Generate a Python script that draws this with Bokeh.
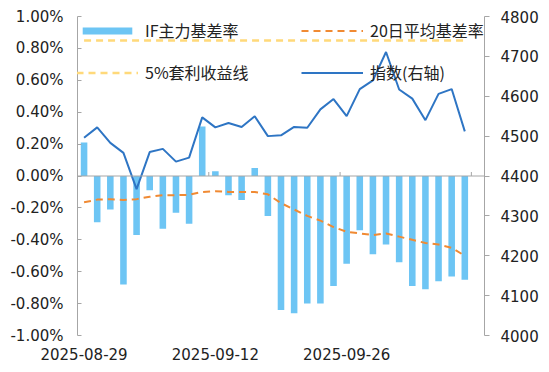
from bokeh.plotting import figure
from bokeh.models import (Range1d, LinearAxis, FixedTicker, PrintfTickFormatter,
                          Span, Legend, LegendItem)
from bokeh.embed import file_html
from bokeh.resources import INLINE

# ---------------- data ----------------
DATES = ["2025-08-29", "2025-09-01", "2025-09-02", "2025-09-03", "2025-09-04",
         "2025-09-05", "2025-09-08", "2025-09-09", "2025-09-10", "2025-09-11",
         "2025-09-12", "2025-09-15", "2025-09-16", "2025-09-17", "2025-09-18",
         "2025-09-19", "2025-09-22", "2025-09-23", "2025-09-24", "2025-09-25",
         "2025-09-26", "2025-09-29", "2025-09-30", "2025-10-09", "2025-10-10",
         "2025-10-13", "2025-10-14", "2025-10-15", "2025-10-16", "2025-10-17"]
# IF main contract basis rate (%)
BASIS = [0.21, -0.29, -0.21, -0.68, -0.37, -0.09, -0.33, -0.23, -0.30, 0.31,
         0.03, -0.12, -0.15, 0.05, -0.25, -0.84, -0.86, -0.80, -0.80, -0.69,
         -0.55, -0.34, -0.49, -0.43, -0.54, -0.69, -0.71, -0.66, -0.63, -0.65]
# 20-day average basis rate (%)
MA20 = [-0.165, -0.148, -0.145, -0.150, -0.145, -0.130, -0.120, -0.120, -0.118, -0.100,
        -0.095, -0.100, -0.100, -0.100, -0.115, -0.170, -0.210, -0.250, -0.280, -0.320,
        -0.350, -0.360, -0.370, -0.360, -0.380, -0.400, -0.420, -0.430, -0.450, -0.500]
# CSI 300 index (right axis)
INDEX = [4496, 4522, 4483, 4458, 4367, 4460, 4468, 4436, 4446, 4547,
         4522, 4533, 4523, 4550, 4500, 4502, 4523, 4521, 4567, 4593,
         4550, 4618, 4640, 4711, 4617, 4594, 4540, 4606, 4618, 4512]
ARB_LINE = 0.85  # 5% arbitrage return line (%)

LEFT_TICKS = [-1.0, -0.8, -0.6, -0.4, -0.2, 0.0, 0.2, 0.4, 0.6, 0.8, 1.0]
RIGHT_TICKS = [4000, 4100, 4200, 4300, 4400, 4500, 4600, 4700, 4800]
LABEL_EVERY = 10

xs = list(range(len(DATES)))

BAR_C = "#6DC5F4"
MA_C = "#F08A33"
ARB_C = "#FFD97A"
IDX_C = "#2E75C4"
AX_C = "#A6A6A6"
TXT_C = "#222222"

p = figure(width=541, height=364, output_backend="svg", toolbar_location=None,
           x_range=Range1d(-0.5, len(DATES) + 0.5), y_range=Range1d(-1.0, 1.0),
           min_border_left=77, min_border_right=55, min_border_top=16,
           min_border_bottom=29)
p.extra_y_ranges = {"idx": Range1d(4000, 4800)}
p.outline_line_color = None
p.xgrid.visible = False
p.ygrid.visible = False
p.background_fill_color = "white"

p.add_layout(Span(location=0, dimension="width", line_color=AX_C, line_width=1))

bars = p.vbar(x=xs, top=BASIS, width=0.5, fill_color=BAR_C, line_color=None)

# category boundary ticks on zero line
bnd = [i - 0.5 for i in range(LABEL_EVERY, len(DATES) + 1, LABEL_EVERY)]
p.segment(x0=bnd, y0=[0] * len(bnd), x1=bnd, y1=[0.025] * len(bnd),
          line_color=AX_C, line_width=1)

arb = p.line(xs, [ARB_LINE] * len(xs), line_color=ARB_C, line_width=2.5,
             line_dash="7 5")
ma = p.line(xs, MA20, line_color=MA_C, line_width=2, line_dash="7 5")
idx = p.line(xs, INDEX, line_color=IDX_C, line_width=2, y_range_name="idx")

# x axis
xa = p.xaxis[0]
xa.ticker = FixedTicker(ticks=xs[::LABEL_EVERY])
xa.major_label_overrides = {i: DATES[i] for i in xs[::LABEL_EVERY]}
xa.axis_line_color = None
xa.major_tick_line_color = None
xa.minor_tick_line_color = None
xa.major_tick_out = 0
xa.major_tick_in = 0
xa.major_label_standoff = 12
xa.major_label_text_font = "DejaVu Sans"
xa.major_label_text_font_size = "15px"
xa.major_label_text_color = TXT_C

# left axis
ya = p.yaxis[0]
ya.ticker = FixedTicker(ticks=LEFT_TICKS)
ya.formatter = PrintfTickFormatter(format="%.2f%%")
ya.axis_line_color = AX_C
ya.major_tick_line_color = AX_C
ya.minor_tick_line_color = None
ya.major_tick_in = 4
ya.major_tick_out = 0
ya.major_label_standoff = 14
ya.major_label_text_font = "DejaVu Sans"
ya.major_label_text_font_size = "15px"
ya.major_label_text_color = TXT_C

# right axis
ra = LinearAxis(y_range_name="idx", ticker=FixedTicker(ticks=RIGHT_TICKS))
ra.axis_line_color = AX_C
ra.major_tick_line_color = AX_C
ra.minor_tick_line_color = None
ra.major_tick_in = 0
ra.major_tick_out = 5
ra.major_label_standoff = 11
ra.major_label_text_font = "DejaVu Sans"
ra.major_label_text_font_size = "15px"
ra.major_label_text_color = TXT_C
p.add_layout(ra, "right")


def make_legend(items, loc):
    lg = Legend(items=items, orientation="horizontal", location=loc,
                padding=0, margin=0, spacing=46, label_standoff=7,
                glyph_width=62, glyph_height=9, label_width=110, label_height=20,
                border_line_color=None, background_fill_alpha=0,
                label_text_font="Noto Sans CJK SC", label_text_font_size="16px",
                label_text_color=TXT_C)
    return lg


leg1 = make_legend([LegendItem(label="IF主力基差率", renderers=[bars]),
                    LegendItem(label="20日平均基差率", renderers=[ma])], (-1, 293))
leg2 = make_legend([LegendItem(label="5%套利收益线", renderers=[arb]),
                    LegendItem(label="指数(右轴)", renderers=[idx])], (-1, 251))
p.add_layout(leg1)
p.add_layout(leg2)

open("out.html", "w").write(file_html(p, INLINE))
